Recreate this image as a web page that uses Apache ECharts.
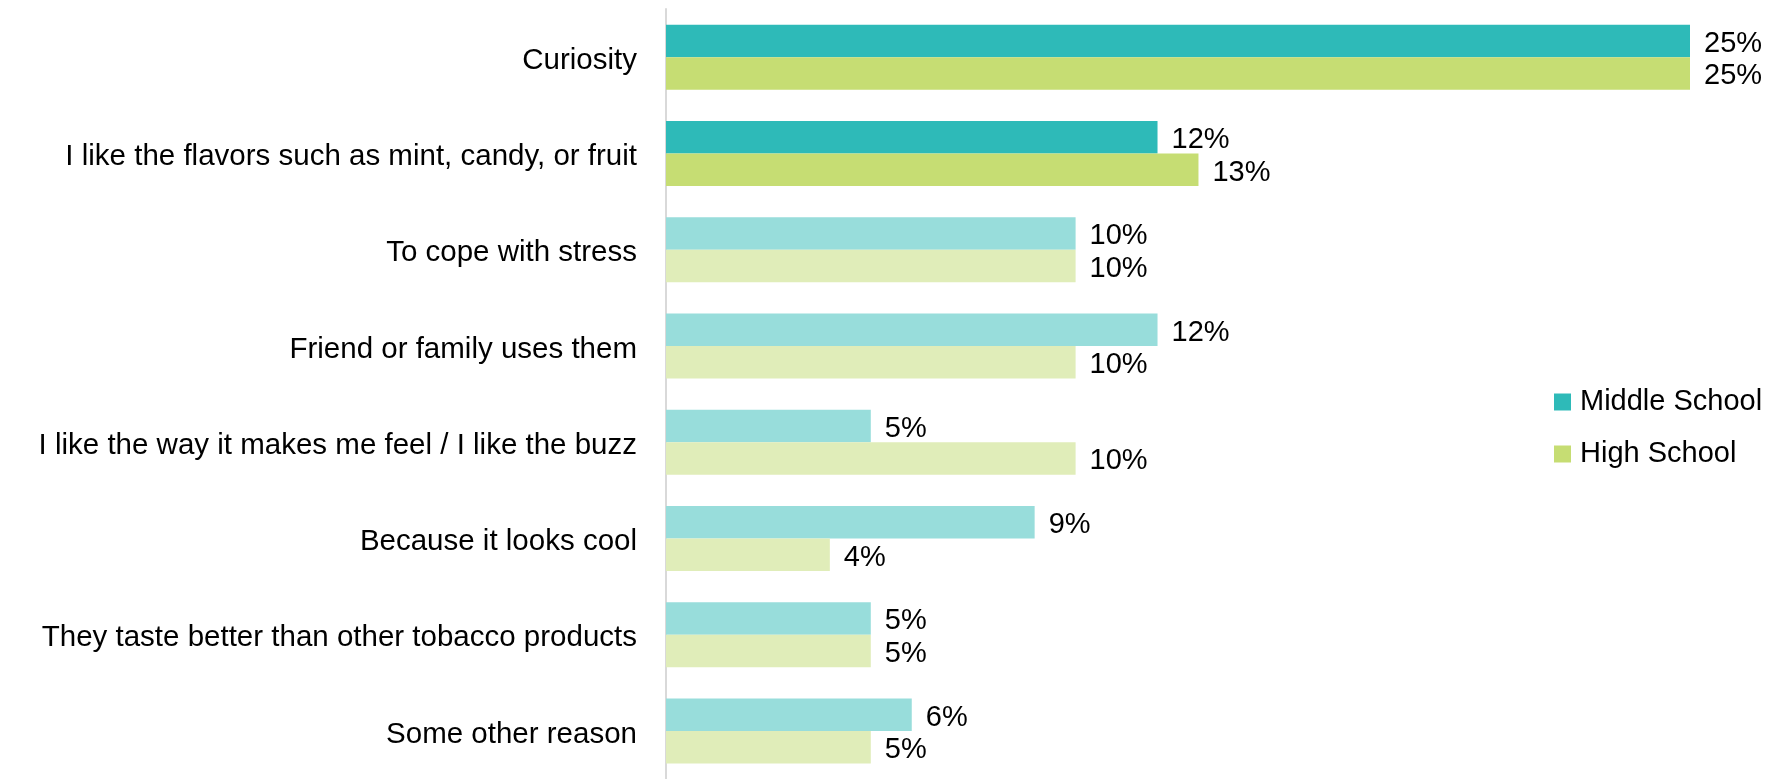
<!DOCTYPE html>
<html>
<head>
<meta charset="utf-8">
<title>Reasons for using e-cigarettes</title>
<script src="https://cdn.jsdelivr.net/npm/echarts@6/dist/echarts.min.js"></script>
<style>
  html, body { margin: 0; padding: 0; background: #ffffff; }
  #chart { width: 1775px; height: 779px; }
</style>
</head>
<body>
<div id="chart"></div>
<script>
// Reasons, top to bottom
const categories = [
  'Curiosity',
  'I like the flavors such as mint, candy, or fruit',
  'To cope with stress',
  'Friend or family uses them',
  'I like the way it makes me feel / I like the buzz',
  'Because it looks cool',
  'They taste better than other tobacco products',
  'Some other reason'
];

// Percent of students giving each reason
const middleSchool = [25, 12, 10, 12, 5, 9, 5, 6];
const highSchool   = [25, 13, 10, 10, 10, 4, 5, 5];

// The leading reasons are drawn in full colour, the rest in a lighter tint
const highlightedCount = 2;

const colors = {
  middle: '#2EBAB8', middleLight: '#98DDDB',
  high: '#C6DD73', highLight: '#E0EDB9'
};

const FONT = '"Liberation Sans", Arial, sans-serif';

function items(values, strong, light) {
  return values.map((v, i) => ({
    value: v,
    itemStyle: { color: i < highlightedCount ? strong : light }
  }));
}

const labelStyle = {
  show: true,
  position: 'right',
  distance: 14,
  offset: [0, 3],
  formatter: '{c}%',
  color: '#000',
  fontFamily: FONT,
  fontSize: 29
};

const chart = echarts.init(document.getElementById('chart'), null, { renderer: 'canvas' });

chart.setOption({
  animation: false,
  backgroundColor: '#ffffff',
  grid: { left: 666, right: 85, top: 9, bottom: -5, containLabel: false },
  legend: {
    orient: 'vertical',
    left: 1549,
    top: 380,
    itemWidth: 17,
    itemHeight: 17,
    itemGap: 18,
    icon: 'rect',
    textStyle: { color: '#000', fontFamily: FONT, fontSize: 29, lineHeight: 30, padding: [4, 0, 0, 4] },
    data: ['Middle School', 'High School']
  },
  xAxis: {
    type: 'value',
    min: 0,
    max: 25,
    show: false
  },
  yAxis: {
    type: 'category',
    inverse: true,
    data: categories,
    axisLine: { show: true, lineStyle: { color: '#D9D9D9', width: 2 } },
    axisTick: { show: false },
    axisLabel: {
      color: '#000',
      fontFamily: FONT,
      fontSize: 29.5,
      margin: 29,
      formatter: '{t|{value}}',
      rich: {
        t: { color: '#000', fontFamily: FONT, fontSize: 29.5, padding: [7, 0, 0, 0] }
      }
    },
    splitLine: { show: false }
  },
  series: [
    {
      name: 'Middle School',
      type: 'bar',
      barWidth: 32.5,
      barGap: '0%',
      itemStyle: { color: colors.middle },
      label: labelStyle,
      data: items(middleSchool, colors.middle, colors.middleLight)
    },
    {
      name: 'High School',
      type: 'bar',
      barWidth: 32.5,
      barGap: '0%',
      itemStyle: { color: colors.high },
      label: labelStyle,
      data: items(highSchool, colors.high, colors.highLight)
    }
  ]
});
</script>
</body>
</html>
